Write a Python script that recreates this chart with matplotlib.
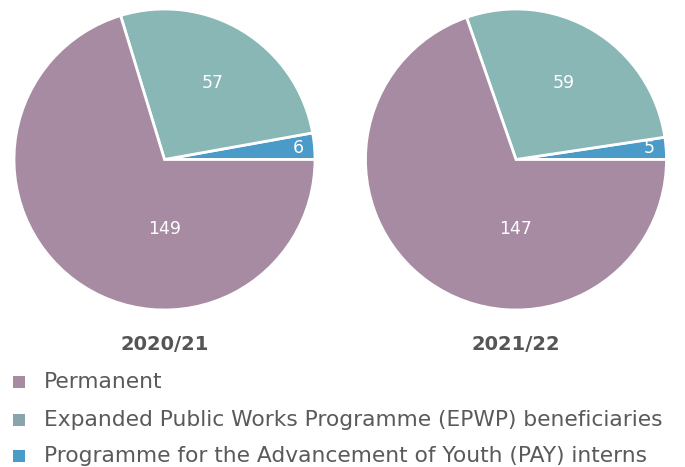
import matplotlib
matplotlib.use("Agg")
import matplotlib.pyplot as plt
from matplotlib.patches import Rectangle
import numpy as np

categories = ["Programme for the Advancement of Youth (PAY) interns",
              "Expanded Public Works Programme (EPWP) beneficiaries",
              "Permanent"]
years = ["2020/21", "2021/22"]
values_2020 = [6, 57, 149]
values_2021 = [5, 59, 147]
pie_colors = ["#4B9BC9", "#88B7B5", "#A68BA3"]
legend_order = ["Permanent",
                "Expanded Public Works Programme (EPWP) beneficiaries",
                "Programme for the Advancement of Youth (PAY) interns"]
legend_colors = ["#A68BA3", "#8AA4AE", "#4B9BC9"]

FONT = ["DejaVu Sans"]
plt.rcParams["font.family"] = FONT

W, H = 685, 467
fig = plt.figure(figsize=(W / 100, H / 100), dpi=100)

# label positions as (fraction of radius, angle in degrees) for each wedge
label_pos = [(0.89, 5.0), (0.60, 58.0), (0.46, 270.0)]

centers = [(164.5, 159.5), (516.0, 159.5)]
R = 150.5
for (cx, cy), yr, vals in zip(centers, years, [values_2020, values_2021]):
    ax = fig.add_axes([(cx - R) / W, (H - cy - R) / H, 2 * R / W, 2 * R / H])
    ax.pie(vals, colors=pie_colors, startangle=0, counterclock=True,
           wedgeprops=dict(edgecolor="white", linewidth=2.0))
    ax.set_xlim(-1, 1)
    ax.set_ylim(-1, 1)
    ax.set_aspect("equal")
    ax.axis("off")
    for v, (r, a) in zip(vals, label_pos):
        t = np.deg2rad(a)
        ax.text(r * np.cos(t), r * np.sin(t), str(v), color="white",
                fontsize=12.5, ha="center", va="center")
    fig.text(cx / W, 1 - 344 / H, yr, ha="center", va="center",
             fontsize=14, fontweight="bold", color="#555555")

# legend (manual, to match uneven row positions)
row_y = [382, 420, 456]
for lab, col, y in zip(legend_order, legend_colors, row_y):
    fig.add_artist(Rectangle((13 / W, 1 - (y + 6) / H), 12 / W, 12 / H,
                             transform=fig.transFigure, facecolor=col,
                             edgecolor="none"))
    fig.text(44 / W, 1 - y / H, lab, ha="left", va="center",
             fontsize=15.7, color="#5a5a5a")

fig.savefig("out.png", dpi=100)
